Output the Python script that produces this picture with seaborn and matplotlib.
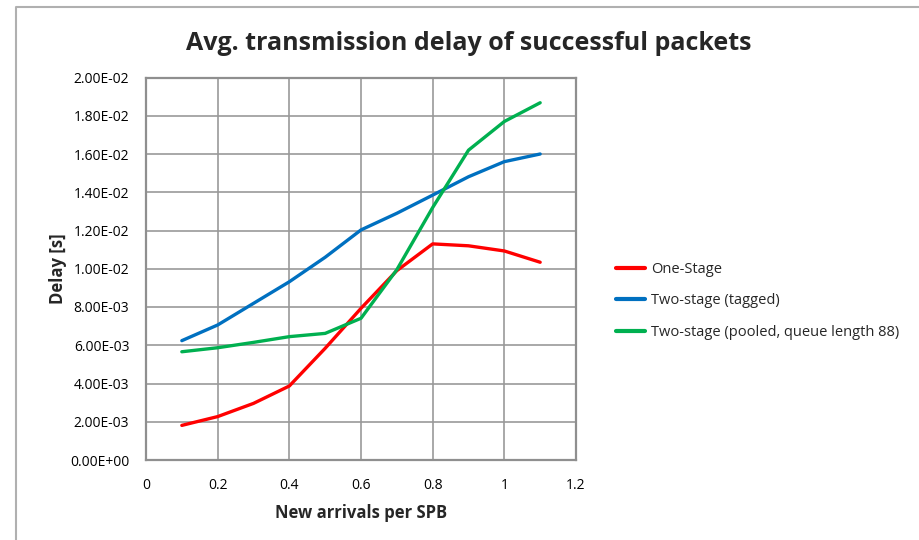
import matplotlib
matplotlib.use("Agg")
import matplotlib.pyplot as plt
from matplotlib.lines import Line2D
from matplotlib.ticker import FuncFormatter, MultipleLocator
import seaborn as sns
import pandas as pd

arrivals = [0.1, 0.2, 0.3, 0.4, 0.5, 0.6, 0.7, 0.8, 0.9, 1.0, 1.1]
one_stage = [1.81e-3, 2.27e-3, 2.96e-3, 3.87e-3, 5.84e-3, 7.93e-3, 9.90e-3, 11.30e-3, 11.20e-3, 10.93e-3, 10.34e-3]
two_stage_tagged = [6.24e-3, 7.06e-3, 8.19e-3, 9.32e-3, 10.60e-3, 12.03e-3, 12.90e-3, 13.85e-3, 14.81e-3, 15.60e-3, 16.00e-3]
two_stage_pooled = [5.66e-3, 5.87e-3, 6.15e-3, 6.45e-3, 6.62e-3, 7.41e-3, 9.95e-3, 13.20e-3, 16.20e-3, 17.70e-3, 18.68e-3]
series_names = ["One-Stage", "Two-stage (tagged)", "Two-stage (pooled, queue length 88)"]
colors = ["#FF0000", "#0070C0", "#00B050"]

rows = []
for name, vals in zip(series_names, [one_stage, two_stage_tagged, two_stage_pooled]):
    for xv, yv in zip(arrivals, vals):
        rows.append({"x": xv, "y": yv, "series": name})
df = pd.DataFrame(rows)

sns.set_style("white")
plt.rcParams["font.family"] = ["Open Sans", "DejaVu Sans"]

fig = plt.figure(figsize=(9.2, 5.4), dpi=100)
ax = fig.add_axes([146 / 920, 80 / 540, 430 / 920, 382.5 / 540])

sns.lineplot(data=df, x="x", y="y", hue="series", hue_order=series_names,
             palette=colors, linewidth=2.4, sort=False, ax=ax, legend=True)

ax.set_xlim(0, 1.2)
ax.set_ylim(0, 0.02)
ax.xaxis.set_major_locator(MultipleLocator(0.2))
ax.yaxis.set_major_locator(MultipleLocator(0.002))
ax.xaxis.set_major_formatter(FuncFormatter(lambda v, p: f"{v:g}"))
ax.yaxis.set_major_formatter(FuncFormatter(lambda v, p: f"{v:.2E}"))
ax.grid(True, color="#999999", linewidth=1.2)
ax.set_axisbelow(True)
for s in ax.spines.values():
    s.set_color("#8f8f8f")
    s.set_linewidth(1.6)
ax.tick_params(axis="both", length=0, labelsize=10, colors="black")
ax.tick_params(axis="y", pad=12)
ax.tick_params(axis="x", pad=13)

ax.set_xlabel("New arrivals per SPB", fontsize=12, fontweight="bold", labelpad=8)
ax.set_ylabel("Delay [s]", fontsize=12, fontweight="bold", labelpad=2)

fig.text(469 / 920, 1 - 43 / 540, "Avg. transmission delay of successful packets",
         ha="center", va="center", fontsize=18, fontweight="bold")

handles, labels = ax.get_legend_handles_labels()
leg = ax.legend(handles, labels, loc="center left",
                bbox_to_anchor=(610 / 920, 1 - 301 / 540), bbox_transform=fig.transFigure,
                frameon=False, fontsize=10.5, handlelength=2.0, handletextpad=0.4,
                labelspacing=1.15, borderaxespad=0)
for lh in leg.get_lines():
    lh.set_linewidth(3)

# chart-area border
fig.add_artist(Line2D([16 / 920, 16 / 920, 1.0], [0, 1 - 7 / 540, 1 - 7 / 540],
                      transform=fig.transFigure, color="#b0b0b0", linewidth=1.5))

fig.savefig("out.png", dpi=100)
